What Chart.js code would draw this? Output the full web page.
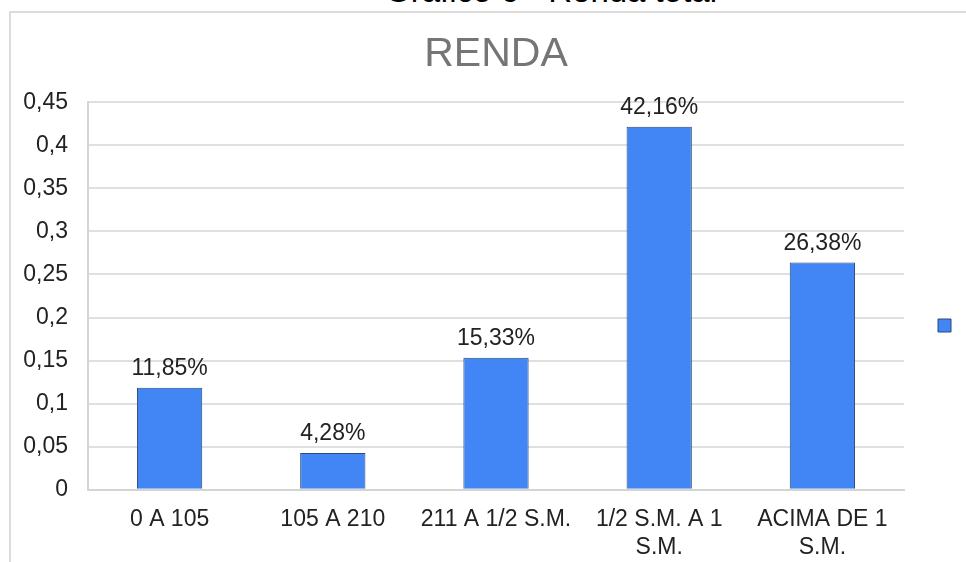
<!DOCTYPE html>
<html lang="pt-BR">
<head>
<meta charset="utf-8">
<title>Gráfico 6 - Renda total</title>
<script src="https://cdn.jsdelivr.net/npm/chart.js@4/dist/chart.umd.min.js"></script>
<style>
  html, body { margin: 0; padding: 0; background: #fff; overflow: hidden; }
  body { width: 966px; height: 562px; position: relative; font-family: "Liberation Sans", Arial, sans-serif; }
  #caption {
    position: absolute; left: 0; width: 1102px; top: -26px;
    text-align: center; font-size: 33px; line-height: 33px; color: #000;
  }
  #frame {
    position: absolute; left: 9px; top: 11px; width: 966px; height: 560px;
    border-left: 2px solid #dcdcdc; border-top: 2px solid #dcdcdc;
    pointer-events: none;
  }
  #wrap { position: absolute; left: 0; top: 0; width: 966px; height: 562px; }
</style>
</head>
<body>
<div id="caption">Gráfico 6 - Renda total</div>
<div id="wrap"><canvas id="chart"></canvas></div>
<div id="frame"></div>
<script>
const categories = [
  ["0 A 105"],
  ["105 A 210"],
  ["211 A 1/2 S.M."],
  ["1/2 S.M. A 1", "S.M."],
  ["ACIMA DE 1", "S.M."],
];
const shares = [0.1185, 0.0428, 0.1533, 0.4216, 0.2638];
const shareLabels = ["11,85%", "4,28%", "15,33%", "42,16%", "26,38%"];
const yTicks = [0, 0.05, 0.1, 0.15, 0.2, 0.25, 0.3, 0.35, 0.4, 0.45];

const FONT = "'Liberation Sans', Arial, sans-serif";

// numbers over the bars
const barLabels = {
  id: "barLabels",
  afterDatasetsDraw(chart) {
    const { ctx } = chart;
    const meta = chart.getDatasetMeta(0);
    ctx.save();
    ctx.font = `23px ${FONT}`;
    ctx.fillStyle = "#222";
    ctx.textAlign = "center";
    ctx.textBaseline = "middle";
    meta.data.forEach((bar, i) => {
      ctx.fillText(shareLabels[i], bar.x, bar.y - 19);
    });
    ctx.restore();
  },
};

const fmt = (v) => String(Math.round(v * 100) / 100).replace(".", ",");

new Chart(document.getElementById("chart"), {
  type: "bar",
  data: {
    labels: categories,
    datasets: [{
      label: "",
      data: shares,
      backgroundColor: "#4285f4",
      borderColor: "#2a4a78",
      borderWidth: 1,
      barPercentage: 0.4,
      categoryPercentage: 1,
    }],
  },
  options: {
    responsive: true,
    maintainAspectRatio: false,
    animation: false,
    layout: { padding: { top: 30, left: 24, right: -2, bottom: -15 } },
    plugins: {
      title: {
        display: true,
        text: "RENDA",
        color: "#757575",
        font: { family: FONT, size: 41, weight: "normal" },
        padding: { top: 0, bottom: 23 },
      },
      legend: {
        display: true,
        position: "right",
        title: {
          display: true,
          text: " ",
          font: { family: FONT, size: 10 },
          padding: { top: 0, bottom: 32 },
        },
        labels: {
          boxWidth: 13,
          boxHeight: 13,
          padding: 34,
          font: { family: FONT, size: 14 },
          generateLabels: () => [{
            text: "",
            fillStyle: "#4285f4",
            strokeStyle: "#2a4a78",
            lineWidth: 1,
          }],
        },
      },
      tooltip: { enabled: false },
    },
    scales: {
      x: {
        grid: { display: false, drawTicks: false },
        border: { color: "#d4d4d4", width: 2 },
        ticks: {
          color: "#222",
          font: { family: FONT, size: 23 },
          padding: 16,
          maxRotation: 0,
          autoSkip: false,
        },
      },
      y: {
        min: 0,
        max: 0.45,
        afterBuildTicks: (axis) => { axis.ticks = yTicks.map((v) => ({ value: v })); },
        afterFit: (axis) => { axis.width = 64; },
        grid: { color: "#e0e0e0", lineWidth: 2, drawTicks: false },
        border: { color: "#d4d4d4", width: 2 },
        ticks: {
          color: "#222",
          font: { family: FONT, size: 23 },
          padding: 20,
          callback: (v) => fmt(v),
        },
      },
    },
  },
  plugins: [barLabels],
});
</script>
</body>
</html>
